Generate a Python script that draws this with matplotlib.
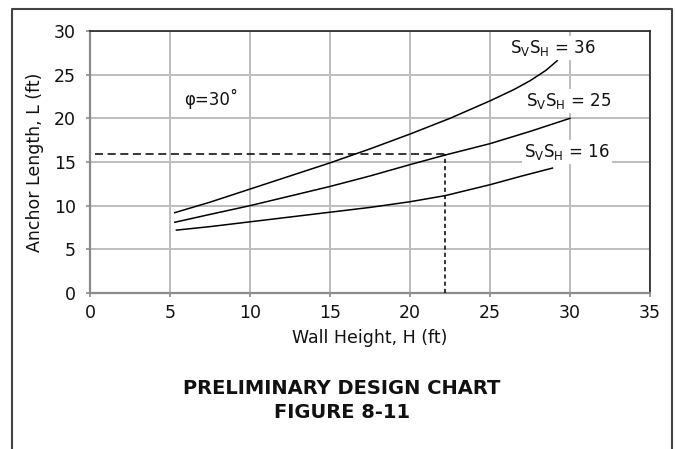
import matplotlib
matplotlib.use("Agg")
import matplotlib.pyplot as plt
from matplotlib.lines import Line2D

plt.rcParams['font.family'] = ['DejaVu Sans']
plt.rcParams['lines.scale_dashes'] = False

# ---- data ----
H36 = [5.3, 7.5, 10, 12.5, 15, 17.5, 20, 22.5, 25, 26.5, 27.5, 28.5, 29.2]
L36 = [9.2, 10.4, 11.9, 13.4, 14.9, 16.5, 18.2, 20.0, 22.0, 23.3, 24.3, 25.5, 26.6]

H25 = [5.3, 7.5, 10, 12.5, 15, 17.5, 20, 22.2, 25, 27.5, 30.0]
L25 = [8.1, 9.0, 10.0, 11.1, 12.2, 13.4, 14.7, 15.8, 17.1, 18.5, 20.0]

H16 = [5.4, 7.5, 10, 12.5, 15, 17.5, 20, 22.2, 25, 27, 28.9]
L16 = [7.2, 7.6, 8.15, 8.7, 9.25, 9.8, 10.45, 11.15, 12.4, 13.4, 14.3]

series_labels = ["36", "25", "16"]
label_pos = [(28.9, 28.0), (29.9, 22.0), (29.8, 16.1)]

example_H = 22.2
example_L = 15.9

x_ticks = [0, 5, 10, 15, 20, 25, 30, 35]
y_ticks = [0, 5, 10, 15, 20, 25, 30]

W, Hpx = 675, 449
fig = plt.figure(figsize=(W / 100, Hpx / 100), dpi=100)
ax = fig.add_axes([90 / W, 1 - 293 / Hpx, (650 - 90) / W, (293 - 31) / Hpx])

ax.set_xlim(0, 35)
ax.set_ylim(0, 30)
ax.set_xticks(x_ticks)
ax.set_yticks(y_ticks)
ax.grid(True, color='#bdbdbd', lw=1.4)
ax.set_axisbelow(True)

for s in ['top', 'right']:
    ax.spines[s].set_color('#222222')
    ax.spines[s].set_linewidth(1.2)
for s in ['left', 'bottom']:
    ax.spines[s].set_color('#8a8a8a')
    ax.spines[s].set_linewidth(1.6)

ax.tick_params(direction='out', length=3, width=1.2, color='#8a8a8a',
               labelsize=12.5, labelcolor='#111111')
ax.tick_params(axis='x', pad=5)
ax.tick_params(axis='y', pad=7)

for hx, ly in [(H36, L36), (H25, L25), (H16, L16)]:
    ax.plot(hx, ly, color='black', lw=1.1, zorder=3)

# example reading lines
ax.plot([0.3, example_H], [example_L, example_L], color='black', lw=1.1,
        dashes=(5.8, 3.3), zorder=3)
ax.plot([example_H, example_H], [0, example_L], color='black', lw=1.1,
        dashes=(3.0, 2.2), zorder=3)

for lab, (px, py) in zip(series_labels, label_pos):
    ax.text(px, py, r'S$_\mathregular{V}$S$_\mathregular{H}$ = ' + lab,
            ha='center', va='center', fontsize=12, color='#111111', zorder=4,
            bbox=dict(facecolor='white', edgecolor='none', pad=1.5))

ax.text(7.6, 22.2, 'φ=30˚', ha='center', va='center', fontsize=12, color='#111111')

ax.set_xlabel('Wall Height, H (ft)', fontsize=12.5, color='#111111', labelpad=5)
ax.set_ylabel('Anchor Length, L (ft)', fontsize=12.5, color='#111111', labelpad=7)

fig.text(342 / W, 1 - 388 / Hpx, 'PRELIMINARY DESIGN CHART', ha='center', va='center',
         fontsize=14, fontweight='bold', color='#111111')
fig.text(342 / W, 1 - 413 / Hpx, 'FIGURE 8-11', ha='center', va='center',
         fontsize=14, fontweight='bold', color='#111111')

# outer frame (open at the bottom)
fx = [12 / W, 12 / W, 672 / W, 672 / W]
fy = [-0.05, 1 - 9 / Hpx, 1 - 9 / Hpx, -0.05]
fig.add_artist(Line2D(fx, fy, transform=fig.transFigure, color='#444444', lw=1.5))

fig.savefig('out.png', dpi=100)
